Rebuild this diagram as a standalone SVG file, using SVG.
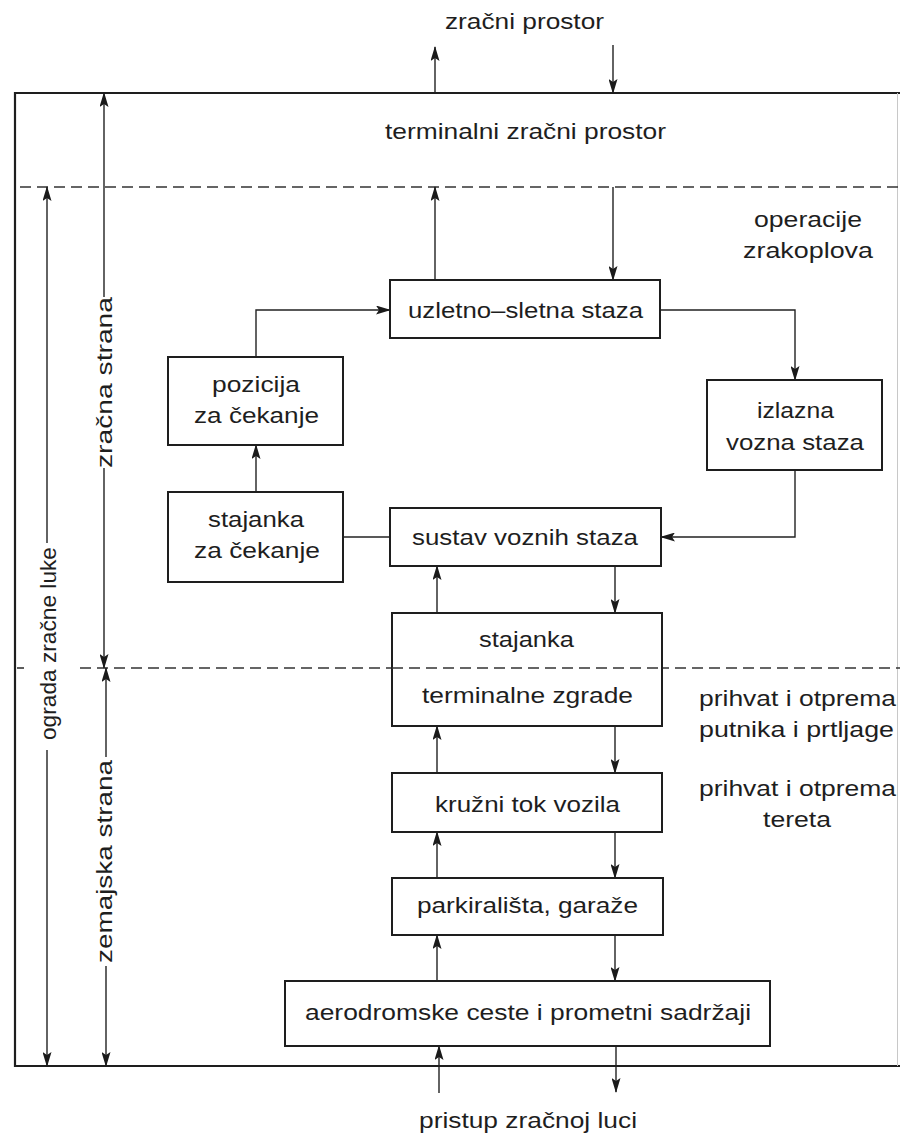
<svg xmlns="http://www.w3.org/2000/svg" width="900" height="1135" viewBox="0 0 900 1135">
<defs>
<marker id="arr" viewBox="0 0 15 9" markerWidth="15" markerHeight="9" refX="14" refY="4.5" orient="auto" markerUnits="userSpaceOnUse">
<path d="M0,0 L15,4.5 L0,9 L3,4.5 z" fill="#1a1a1a"/>
</marker>
<style>
text{font-family:"Liberation Sans",Arial,sans-serif;font-size:22px;fill:#1e1e1e}
.box{fill:#fff;stroke:#1e1e1e;stroke-width:2}
.ln{fill:none;stroke:#222;stroke-width:1.4}
.ar{fill:none;stroke:#222;stroke-width:1.4;marker-end:url(#arr)}
.frame{fill:none;stroke:#1e1e1e;stroke-width:2.2}
.dash{fill:none;stroke:#333;stroke-width:1.6;stroke-dasharray:11 6}
</style>
</defs>
<rect width="900" height="1135" fill="#fff"/>

<g id="frame">
<line class="frame" x1="15" y1="93" x2="900" y2="93"/>
<line class="frame" x1="15" y1="1066" x2="900" y2="1066"/>
<line class="frame" x1="15" y1="92" x2="15" y2="1067"/>
<line x1="897.5" y1="93" x2="897.5" y2="1066" stroke="#c8c8c8" stroke-width="1"/>
<line class="dash" x1="20" y1="187" x2="900" y2="187"/>
<line class="dash" x1="80" y1="668" x2="900" y2="668"/>
<line x1="17" y1="668" x2="24" y2="668" stroke="#333" stroke-width="1.6"/>
</g>

<g id="labels">
<text x="445" y="29" textLength="159" lengthAdjust="spacingAndGlyphs">zračni prostor</text>
<text x="385" y="139" textLength="281" lengthAdjust="spacingAndGlyphs">terminalni zračni prostor</text>
<text x="754" y="227" textLength="108" lengthAdjust="spacingAndGlyphs">operacije</text>
<text x="743" y="258" textLength="130" lengthAdjust="spacingAndGlyphs">zrakoplova</text>
<text x="699" y="706" textLength="197" lengthAdjust="spacingAndGlyphs">prihvat i otprema</text>
<text x="699" y="737" textLength="195" lengthAdjust="spacingAndGlyphs">putnika i prtljage</text>
<text x="699" y="796" textLength="197" lengthAdjust="spacingAndGlyphs">prihvat i otprema</text>
<text x="763" y="827" textLength="68" lengthAdjust="spacingAndGlyphs">tereta</text>
<text x="419" y="1128" textLength="218" lengthAdjust="spacingAndGlyphs">pristup zračnoj luci</text>
<text transform="translate(112,468) rotate(-90)" textLength="171" lengthAdjust="spacingAndGlyphs">zračna strana</text>
<text transform="translate(56,740) rotate(-90)" textLength="193" lengthAdjust="spacingAndGlyphs">ograda zračne luke</text>
<text transform="translate(112,963) rotate(-90)" textLength="203" lengthAdjust="spacingAndGlyphs">zemajska strana</text>
</g>

<g id="connectors">
<line class="ar" x1="435" y1="93" x2="435" y2="47"/>
<line class="ar" x1="613" y1="45" x2="613" y2="93"/>
<line class="ar" x1="435" y1="280" x2="435" y2="187" stroke="#666"/>
<line class="ar" x1="613" y1="187" x2="613" y2="280"/>
<polyline class="ar" points="256,357 256,310 390,310"/>
<polyline class="ar" points="660,310 795,310 795,380"/>
<polyline class="ar" points="795,470 795,537 661,537"/>
<line class="ln" x1="343" y1="537" x2="390" y2="537"/>
<line class="ar" x1="256" y1="492" x2="256" y2="445"/>
<line class="ar" x1="437" y1="613" x2="437" y2="566"/>
<line class="ar" x1="615" y1="566" x2="615" y2="613"/>
<line class="ar" x1="437" y1="773" x2="437" y2="726"/>
<line class="ar" x1="615" y1="726" x2="615" y2="773"/>
<line class="ar" x1="437" y1="878" x2="437" y2="832"/>
<line class="ar" x1="615" y1="832" x2="615" y2="878"/>
<line class="ar" x1="437" y1="981" x2="437" y2="935"/>
<line class="ar" x1="615" y1="935" x2="615" y2="981"/>
<line class="ar" x1="439" y1="1093" x2="439" y2="1046"/>
<line class="ar" x1="616" y1="1046" x2="616" y2="1092"/>
<line class="ar" x1="104" y1="297" x2="104" y2="93"/>
<line class="ar" x1="104" y1="468" x2="104" y2="668"/>
<line class="ar" x1="47" y1="543" x2="47" y2="187"/>
<line class="ar" x1="47" y1="750" x2="47" y2="1066"/>
<line class="ar" x1="106" y1="757" x2="106" y2="668"/>
<line class="ar" x1="106" y1="966" x2="106" y2="1066"/>
</g>

<g id="n-uzletno">
<rect class="box" x="390" y="280" width="270" height="58"/>
<text x="408" y="318" textLength="235" lengthAdjust="spacingAndGlyphs">uzletno–sletna staza</text>
</g>
<g id="n-pozicija">
<rect class="box" x="168" y="357" width="175" height="88"/>
<text x="212" y="392" textLength="88" lengthAdjust="spacingAndGlyphs">pozicija</text>
<text x="194" y="423" textLength="125" lengthAdjust="spacingAndGlyphs">za čekanje</text>
</g>
<g id="n-izlazna">
<rect class="box" x="707" y="380" width="175" height="90"/>
<text x="757" y="418" textLength="77" lengthAdjust="spacingAndGlyphs">izlazna</text>
<text x="726" y="450" textLength="138" lengthAdjust="spacingAndGlyphs">vozna staza</text>
</g>
<g id="n-stajanka-cekanje">
<rect class="box" x="168" y="492" width="175" height="90"/>
<text x="208" y="527" textLength="96" lengthAdjust="spacingAndGlyphs">stajanka</text>
<text x="194" y="558" textLength="126" lengthAdjust="spacingAndGlyphs">za čekanje</text>
</g>
<g id="n-sustav">
<rect class="box" x="390" y="508" width="271" height="58"/>
<text x="412" y="545" textLength="226" lengthAdjust="spacingAndGlyphs">sustav voznih staza</text>
</g>
<g id="n-terminal">
<rect class="box" x="392" y="613" width="270" height="113"/>
<text x="479" y="647" textLength="95" lengthAdjust="spacingAndGlyphs">stajanka</text>
<text x="422" y="703" textLength="211" lengthAdjust="spacingAndGlyphs">terminalne zgrade</text>
</g>
<line class="dash" x1="392" y1="668" x2="662" y2="668"/>
<g id="n-kruzni">
<rect class="box" x="392" y="773" width="270" height="59"/>
<text x="435" y="812" textLength="185" lengthAdjust="spacingAndGlyphs">kružni tok vozila</text>
</g>
<g id="n-parkiralista">
<rect class="box" x="392" y="878" width="271" height="57"/>
<text x="417" y="913" textLength="221" lengthAdjust="spacingAndGlyphs">parkirališta, garaže</text>
</g>
<g id="n-aerodromske">
<rect class="box" x="285" y="981" width="485" height="65"/>
<text x="305" y="1020" textLength="446" lengthAdjust="spacingAndGlyphs">aerodromske ceste i prometni sadržaji</text>
</g>
</svg>
